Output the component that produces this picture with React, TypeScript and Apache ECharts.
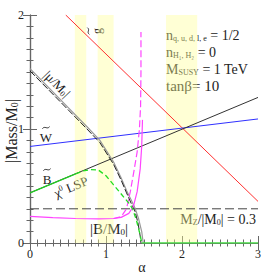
import React, { useEffect, useRef } from "react";
import * as echarts from "echarts";

// ---- data ----
const gluinoAlpha = [0.47, 3];
const gluinoMass = [2.0, 0.365];
const winoAlpha = [0, 3];
const winoMass = [0.847, 1.088];
const binoAlpha = [0, 3];
const binoMass = [0.44, 1.277];
const lspSolidAlpha = [0, 0.6];
const lspSolidMass = [0.44, 0.607];
const lspDashAlpha = [0.6, 0.7, 0.8, 0.9, 1.0, 1.1, 1.2, 1.3, 1.35, 1.4, 1.45, 1.47];
const lspDashMass = [0.607, 0.632, 0.643, 0.64, 0.59, 0.51, 0.43, 0.35, 0.3, 0.2, 0.07, 0];
const lspZeroAlpha = [1.47, 3];
const lspZeroMass = [0, 0];
const muSolidAlpha = [0, 0.25, 0.5, 0.75, 0.92, 1.1, 1.2, 1.27, 1.33, 1.38, 1.43, 1.47, 1.49];
const muSolidMass = [1.53, 1.36, 1.19, 1.02, 0.9, 0.71, 0.57, 0.46, 0.38, 0.31, 0.21, 0.1, 0];
const muDashAlpha = [0, 0.25, 0.5, 0.75, 0.92, 1.1, 1.2, 1.27, 1.33, 1.38, 1.42, 1.45, 1.46];
const muDashMass = [1.51, 1.34, 1.17, 1.0, 0.88, 0.69, 0.55, 0.44, 0.35, 0.28, 0.18, 0.06, 0];
const bSolidAlpha = [0, 0.3, 0.6, 0.9, 1.1, 1.2, 1.3, 1.36, 1.41, 1.45, 1.47, 1.48];
const bSolidMass = [0.233, 0.222, 0.215, 0.212, 0.215, 0.225, 0.26, 0.32, 0.45, 0.65, 0.85, 1.08];
const bDashAlpha = [1.1, 1.2, 1.27, 1.32, 1.37, 1.41, 1.44, 1.455, 1.46, 1.46];
const bDashMass = [0.215, 0.23, 0.3, 0.45, 0.64, 0.8, 1.0, 1.2, 1.5, 1.85];
const mzAlpha = [0, 3];
const mzMass = [0.3, 0.3];
const bands = [
  [0.59, 0.74],
  [0.89, 1.1],
  [1.79, 2.2],
];
const xTicks = [0, 1, 2, 3];
const yTicks = [0, 1, 2];

const SERIF = "'Liberation Serif', 'DejaVu Serif', serif";

function pts(a: number[], m: number[]) {
  return a.map((x, i) => [x, m[i]]);
}

function lineSeries(a: number[], m: number[], color: string, width = 1, type: any = "solid", z = 2) {
  return {
    type: "line",
    data: pts(a, m),
    showSymbol: false,
    symbol: "none",
    smooth: false,
    z,
    lineStyle: { color, width, type },
    silent: true,
  };
}

function richText(x: number, y: number, text: string, size: number, sub: number, align = "center", rotation = 0, subPad = 6) {
  return {
    type: "text",
    x,
    y,
    rotation,
    style: {
      text,
      rich: {
        a: { fontFamily: SERIF, fontSize: size, fill: "#222" },
        s: { fontFamily: SERIF, fontSize: sub, fill: "#222", padding: [subPad, 0, 0, 0] },
        p: { fontFamily: SERIF, fontSize: sub, fill: "#222", padding: [0, 0, subPad, 0] },
      },
      align,
      verticalAlign: "middle",
    },
  };
}

// letter with a tilde drawn as a small curve above it
function tildeLetter(x: number, y: number, letter: string, size: number, rotation = 0) {
  const w = size * 0.28;
  const ty = -size * 0.72;
  return {
    type: "group",
    x,
    y,
    rotation,
    children: [
      {
        type: "text",
        x: 0,
        y: 0,
        style: { text: letter, font: `${size}px ${SERIF}`, fill: "#222", align: "center", verticalAlign: "middle" },
      },
      {
        type: "bezierCurve",
        shape: {
          x1: -w,
          y1: ty + 1,
          cpx1: -w * 0.3,
          cpy1: ty - 2.2,
          cpx2: w * 0.3,
          cpy2: ty + 2.2,
          x2: w,
          y2: ty - 1,
        },
        style: { stroke: "#222", lineWidth: 0.9, fill: null },
      },
    ],
  };
}

export default function App() {
  const ref = useRef<HTMLDivElement>(null);
  useEffect(() => {
    if (!ref.current) return;
    const chart = echarts.init(ref.current, null, { renderer: "svg" });
    const axisCommon = (pos: string, showLabel: boolean, isX: boolean) => ({
      type: "value",
      position: pos,
      min: 0,
      max: isX ? xTicks[xTicks.length - 1] : yTicks[yTicks.length - 1],
      interval: 1,
      axisLine: { show: true, lineStyle: { color: "#666", width: 1.2 } },
      axisTick: { show: true, inside: true, length: 7, lineStyle: { color: "#666" } },
      minorTick: { show: true, splitNumber: 10, length: 3.5, lineStyle: { color: "#666" } },
      splitLine: { show: false },
      axisLabel: {
        show: showLabel,
        fontFamily: SERIF,
        fontSize: 12,
        color: "#222",
        margin: isX ? 5 : 6,
      },
    });
    const option: any = {
      animation: false,
      backgroundColor: "#fff",
      grid: { left: 30, right: 15, top: 15, bottom: 30 },
      xAxis: [axisCommon("bottom", true, true), axisCommon("top", false, true)],
      yAxis: [axisCommon("left", true, false), axisCommon("right", false, false)],
      series: [
        {
          type: "line",
          data: [],
          markArea: {
            silent: true,
            itemStyle: { color: "rgba(255,255,150,0.4)" },
            data: bands.map((b) => [{ xAxis: b[0] }, { xAxis: b[1] }]),
          },
          z: 1,
        },
        lineSeries(mzAlpha, mzMass, "#444", 1, [9, 4]),
        lineSeries(gluinoAlpha, gluinoMass, "#ff3030"),
        lineSeries(winoAlpha, winoMass, "#3030ff"),
        lineSeries(binoAlpha, binoMass, "#333"),
        lineSeries(muSolidAlpha, muSolidMass, "#999", 1.2),
        lineSeries(muDashAlpha, muDashMass, "#222", 1, [7, 2]),
        lineSeries(bSolidAlpha, bSolidMass, "#ff44ff", 1.2),
        lineSeries(bDashAlpha, bDashMass, "#ff44ff", 1.2, [7, 3]),
        lineSeries(lspSolidAlpha, lspSolidMass, "#22cc22", 1.3, "solid", 3),
        lineSeries(lspDashAlpha, lspDashMass, "#22dd22", 1.3, [5, 3], 3),
        lineSeries(lspZeroAlpha, lspZeroMass, "#44dd44", 1.5, "solid", 3),
      ],
      graphic: [
        richText(11, 131, "{a||Mass/M}{s|0}{a||}", 16, 10, "center", Math.PI / 2, 7),
        {
          type: "text",
          x: 142,
          y: 267,
          style: { text: "α", font: `14px ${SERIF}`, fill: "#222", align: "center", verticalAlign: "middle" },
        },
        tildeLetter(97, 31, "g", 12, Math.PI / 2),
        richText(57, 84, "{a||μ/M}{s|0}{a||}", 13, 8, "center", -0.8),
        tildeLetter(46, 137, "W", 13),
        tildeLetter(47, 179, "B", 13),
        richText(71, 187, "{a|χ}{p|0}{a| LSP}", 13, 8, "center", 0.4),
        richText(109, 229, "{a||B/M}{s|0}{a||}", 15, 9),
        richText(256, 219, "{a|M}{s|Z}{a|/|M}{s|0}{a|| = 0.3}", 14, 8, "right"),
        richText(166, 35, "{a|n}{s|q, u, d, l, e}{a| = 1/2}", 14, 8, "left"),
        richText(166, 52, "{a|n}{s|H\u2081, H\u2082}{a| = 0}", 14, 8, "left"),
        richText(166, 69, "{a|M}{s|SUSY}{a| = 1 TeV}", 14, 8, "left"),
        {
          type: "text",
          x: 166,
          y: 86,
          style: {
            text: "tanβ= 10",
            font: `15px ${SERIF}`,
            fill: "#222",
            align: "left",
            verticalAlign: "middle",
          },
        },
      ],
    };
    chart.setOption(option);
    return () => chart.dispose();
  }, []);
  return <div ref={ref} style={{ position: "fixed", left: 0, top: 0, width: 273, height: 273 }} />;
}
